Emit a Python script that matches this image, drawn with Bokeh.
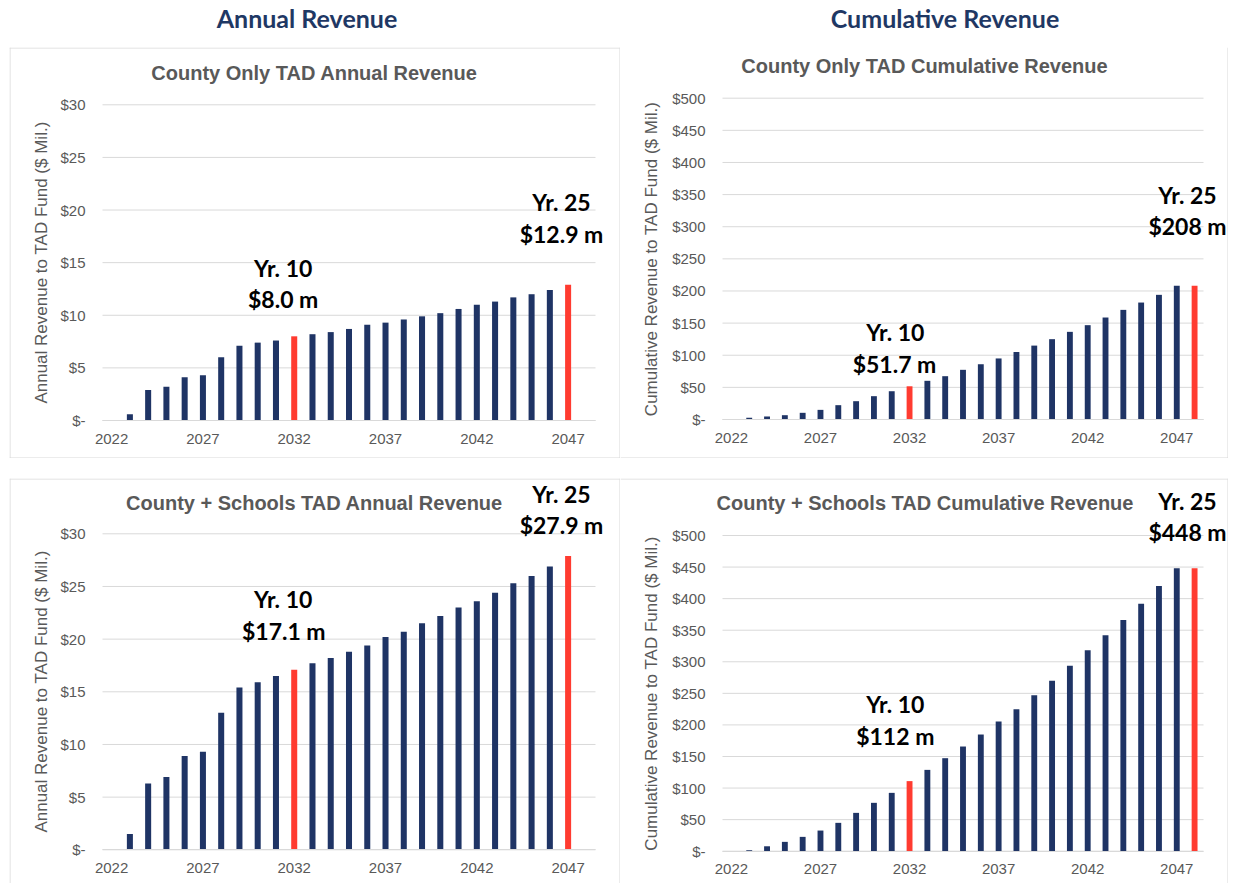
from bokeh.plotting import figure
from bokeh.models import Range1d, FixedTicker, Label, Div, Spacer, ColumnDataSource, Span
from bokeh.layouts import column, row
from bokeh.embed import file_html
from bokeh.resources import INLINE

# ---------------- data ----------------
annual_years = [2022, 2023, 2024, 2025, 2026, 2027, 2028, 2029, 2030, 2031, 2032, 2033, 2034,
                2035, 2036, 2037, 2038, 2039, 2040, 2041, 2042, 2043, 2044, 2045, 2046, 2047]
cumulative_years = [2022, 2023, 2024, 2025, 2026, 2027, 2028, 2029, 2030, 2031, 2032, 2033, 2034,
                    2035, 2036, 2037, 2038, 2039, 2040, 2041, 2042, 2043, 2044, 2045, 2046, 2047, 2048]

county_annual = [0, 0.6, 2.9, 3.2, 4.1, 4.3, 6.0, 7.1, 7.4, 7.6, 8.0, 8.2, 8.4,
                 8.7, 9.1, 9.3, 9.6, 9.9, 10.2, 10.6, 11.0, 11.3, 11.7, 12.0, 12.4, 12.9]
county_cumulative = [0, 2.6, 4.7, 6.7, 10.4, 15.0, 22.3, 28.5, 36.3, 44.0, 51.7, 60.2, 67.4,
                     77.3, 86.0, 95.0, 105.0, 115.0, 125.0, 136.4, 146.8, 158.7, 170.6, 182.0, 194.0, 208.0, 208.0]
schools_annual = [0, 1.5, 6.3, 6.9, 8.9, 9.3, 13.0, 15.4, 15.9, 16.5, 17.1, 17.7, 18.2,
                  18.8, 19.4, 20.2, 20.7, 21.5, 22.2, 23.0, 23.6, 24.4, 25.3, 26.0, 26.9, 27.9]
schools_cumulative = [0, 1.5, 7.8, 14.8, 22.7, 32.7, 44.9, 60.7, 76.6, 92.4, 111.0, 128.8, 147.3,
                      165.8, 184.8, 205.4, 225.0, 247.0, 269.8, 293.6, 318.4, 342.0, 366.0, 391.8, 420.0, 448.0, 448.0]

annual_highlight = [2032, 2047]
cumulative_highlight = [2032, 2048]

x_tick_years = [2022, 2027, 2032, 2037, 2042, 2047]
annual_y_ticks = [0, 5, 10, 15, 20, 25, 30]
annual_y_labels = ["$-", "$5", "$10", "$15", "$20", "$25", "$30"]
cumulative_y_ticks = [0, 50, 100, 150, 200, 250, 300, 350, 400, 450, 500]
cumulative_y_labels = ["$-", "$50", "$100", "$150", "$200", "$250", "$300", "$350", "$400", "$450", "$500"]

X_FIRST = 2021.5   # left edge of the category band
X_LAST = 2048.5    # right edge of the category band

NAVY = "#1f3465"
RED = "#ff3b30"
GRID = "#d9d9d9"
GRAY = "#595959"
HEAD = "#1f3864"


def panel(title, years, values, highlight, y_ticks, y_labels, y_label, lab_standoff,
          W, H, PL, PR, PT, PB, edges, title_px, notes_px):
    ymax = y_ticks[-1]
    pxyr = (PR - PL) / (X_LAST - X_FIRST)
    xs = X_FIRST - PL / pxyr
    xe = X_FIRST + (W - PL) / pxyr
    pxd = (PB - PT) / ymax
    ye = ymax + PT / pxd
    ys = -(H - PB) / pxd

    def to_data(px, py):
        return xs + px / pxyr, ye - py / pxd

    p = figure(width=W, height=H, title=None,
               x_range=Range1d(xs, xe), y_range=Range1d(ys, ye),
               output_backend="svg", toolbar_location=None,
               min_border=0, min_border_left=0, min_border_right=0,
               min_border_top=0, min_border_bottom=0,
               outline_line_color=None, background_fill_color="white",
               border_fill_color="white")
    p.xgrid.visible = False
    p.ygrid.visible = False

    # horizontal gridlines across the category band
    n = len(y_ticks)
    p.segment(x0=[X_FIRST] * n, x1=[X_LAST] * n, y0=y_ticks, y1=y_ticks,
              line_color=GRID, line_width=1)

    colors = [RED if y in highlight else NAVY for y in years]
    src = ColumnDataSource(dict(x=years, top=values, color=colors))
    p.vbar(x="x", top="top", width=0.33, fill_color="color", line_color=None, source=src)

    xa = p.xaxis[0]
    xa.fixed_location = 0
    xa.bounds = (X_FIRST, X_LAST)
    xa.ticker = FixedTicker(ticks=x_tick_years)
    xa.major_tick_out = 0
    xa.major_tick_in = 0
    xa.major_tick_line_color = None
    xa.minor_tick_line_color = None
    xa.axis_line_color = GRID
    xa.major_label_text_font = "Liberation Sans"
    xa.major_label_text_font_size = "15px"
    xa.major_label_text_color = GRAY
    xa.major_label_standoff = 13

    ya = p.yaxis[0]
    ya.fixed_location = X_FIRST
    ya.bounds = (0, ymax)
    ya.ticker = FixedTicker(ticks=y_ticks)
    ya.major_label_overrides = dict(zip(y_ticks, y_labels))
    ya.major_tick_out = 0
    ya.major_tick_in = 0
    ya.major_tick_line_color = None
    ya.minor_tick_line_color = None
    ya.axis_line_color = None
    ya.major_label_text_font = "Liberation Sans"
    ya.major_label_text_font_size = "15px"
    ya.major_label_text_color = GRAY
    ya.major_label_standoff = 17
    ya.axis_label = y_label
    ya.axis_label_text_font = "Liberation Sans"
    ya.axis_label_text_font_size = "17px"
    ya.axis_label_text_font_style = "normal"
    ya.axis_label_text_color = GRAY
    ya.axis_label_standoff = lab_standoff

    # panel border lines
    if "left" in edges:
        p.add_layout(Span(location=xs + 0.5 / pxyr, dimension="height", line_color=GRID, line_width=1))
    if "right" in edges:
        p.add_layout(Span(location=xe - 0.5 / pxyr, dimension="height", line_color=GRID, line_width=1))
    if "top" in edges:
        p.add_layout(Span(location=ye - 0.5 / pxd, dimension="width", line_color=GRID, line_width=1))
    if "bottom" in edges:
        p.add_layout(Span(location=ys + 0.5 / pxd, dimension="width", line_color=GRID, line_width=1))

    tx, ty = to_data(*title_px)
    p.add_layout(Label(x=tx, y=ty, text=title, text_align="center", text_baseline="middle",
                       text_font="Liberation Sans", text_font_style="bold",
                       text_font_size="20px", text_color=GRAY))
    for txt, px, py in notes_px:
        nx, ny = to_data(px, py)
        p.add_layout(Label(x=nx, y=ny, text=txt, text_align="center", text_baseline="middle",
                           text_font="Lato", text_font_style="bold", text_font_size="23px",
                           text_color="black"))
    return p


tl = panel("County Only TAD Annual Revenue", annual_years, county_annual, annual_highlight,
           annual_y_ticks, annual_y_labels, "Annual Revenue to TAD Fund ($ Mil.)", 6,
           611, 411, 93, 586, 57.3, 373, ["left", "top", "right", "bottom"], (305, 25),
           [("Yr. 10", 273.7, 220), ("$8.0 m", 273.7, 251),
            ("Yr. 25", 552, 154), ("$12.9 m", 552, 186)])

tr = panel("County Only TAD Cumulative Revenue", cumulative_years, county_cumulative, cumulative_highlight,
           cumulative_y_ticks, cumulative_y_labels, "Cumulative Revenue to TAD Fund ($ Mil.)", 8,
           608, 411, 102, 583, 50.7, 372, ["right", "bottom"], (304, 18),
           [("Yr. 10", 274.8, 284.7), ("$51.7 m", 274.0, 316),
            ("Yr. 25", 567, 147), ("$208 m", 567, 178.7)])

bl = panel("County + Schools TAD Annual Revenue", annual_years, schools_annual, annual_highlight,
           annual_y_ticks, annual_y_labels, "Annual Revenue to TAD Fund ($ Mil.)", 6,
           611, 405, 93, 586, 55.3, 371.3, ["left", "top", "right"], (305, 24),
           [("Yr. 10", 273.7, 120), ("$17.1 m", 274.3, 152),
            ("Yr. 25", 552, 15), ("$27.9 m", 552, 46)])

br = panel("County + Schools TAD Cumulative Revenue", cumulative_years, schools_cumulative, cumulative_highlight,
           cumulative_y_ticks, cumulative_y_labels, "Cumulative Revenue to TAD Fund ($ Mil.)", 8,
           608, 405, 102, 583, 57, 372.7, ["top", "right"], (304.5, 24),
           [("Yr. 10", 274.8, 225), ("$112 m", 274.8, 257),
            ("Yr. 25", 567, 22), ("$448 m", 567, 53.7)])

head_html = (
    '<div style="position:relative;width:1228px;height:47px;font-family:Lato;font-weight:bold;'
    'font-size:25px;line-height:25px;color:%s;">'
    '<span style="position:absolute;left:307px;top:6px;transform:translateX(-50%%);white-space:nowrap;">Annual Revenue</span>'
    '<span style="position:absolute;left:945px;top:6px;transform:translateX(-50%%);white-space:nowrap;">Cumulative Revenue</span>'
    '</div>' % HEAD
)
heading = Div(text=head_html, width=1228, height=47, margin=0)

layout = column(
    heading,
    row(Spacer(width=9, height=411), tl, tr),
    Spacer(width=1228, height=20),
    row(Spacer(width=9, height=405), bl, br),
)

open("out.html", "w").write(file_html(layout, INLINE))
